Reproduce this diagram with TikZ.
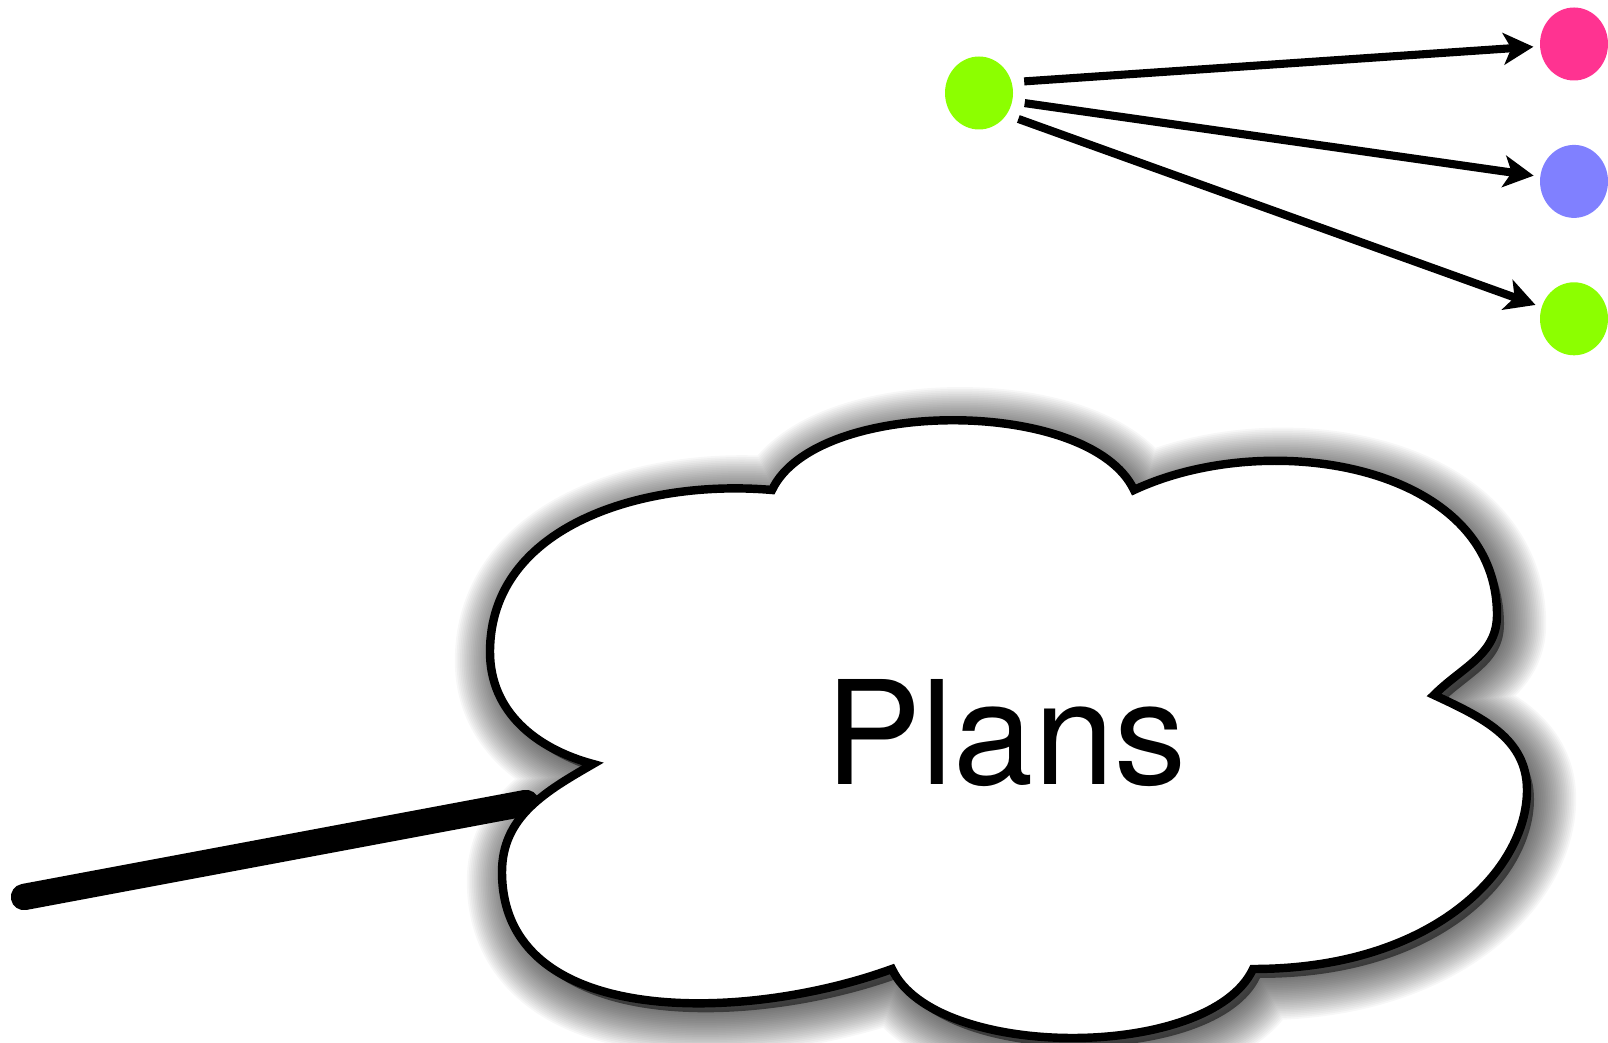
\documentclass[tikz,border=0pt]{standalone}
\usepackage{fontspec}
\setsansfont{TeX Gyre Heros}
\usepackage{tikz}
\usepackage{xcolor}
\usetikzlibrary{positioning, arrows.meta, shapes.geometric}

\definecolor{dotgreen}{RGB}{140,255,0}
\definecolor{dotpink}{RGB}{255,51,145}
\definecolor{dotblue}{RGB}{128,128,255}

% outline of the thought cloud
\newcommand{\cloudshape}{(7.72,5.52)
  .. controls (8.16,6.45) and (10.90,6.45) .. (11.34,5.52)
  to[out=25,in=90] (14.97,4.27)
  to[out=-90,in=45] (14.34,3.47)
  to[out=-25,in=90] (15.27,2.52)
  .. controls (15.27,1.72) and (14.33,0.73) .. (12.53,0.73)
  .. controls (12.10,-0.19) and (9.35,-0.19) .. (8.92,0.73)
  to[out=200,in=-90] (5.02,1.70)
  to[out=90,in=210] (5.93,2.78)
  to[out=165,in=-90] (4.90,3.90)
  to[out=90,in=175] (7.72,5.52) -- cycle}

\begin{document}
\begin{tikzpicture}[
    dot/.style={ellipse, minimum width=0.68cm, minimum height=0.73cm, inner sep=0pt},
    link/.style={line width=2.3pt, -{Stealth[length=8.5pt, width=9pt, inset=2.2pt]},
      shorten <=0.12cm, shorten >=0.06cm}
  ]

  \useasboundingbox (0,0) rectangle (16.08,10.42);

  % Dots
  \node[dot, fill=dotgreen] (src) at (9.79,9.49) {};
  \node[dot, fill=dotpink] (pink) at (15.74,9.98) {};
  \node[dot, fill=dotblue, below=0.63cm of pink] (blue) {};
  \node[dot, fill=dotgreen, below=0.63cm of blue] (leaf) {};

  % Arrows
  \foreach \tgt/\ang in {pink/18, blue/-14, leaf/-38}
    \draw[link] (src.\ang) -- (\tgt);

  % Tail
  \coordinate (tail) at (0.24,1.45);
  \coordinate (hook) at (5.26,2.39);
  \draw[line width=7.5pt, line cap=round] (tail) -- (hook);

  % Shadow
  \foreach \w in {1,...,24}
    \draw[line width=\w pt, line join=round, black, draw opacity=0.03, shift={(0.07,-0.09)}] \cloudshape;
  \fill[black, opacity=0.5, shift={(0.07,-0.09)}] \cloudshape;

  % Cloud
  \filldraw[fill=white, line width=2.4pt] \cloudshape;
  \node[font=\sffamily\fontsize{41}{45}\selectfont, anchor=base] (plans) at (10.06,2.57) {Plans};

\end{tikzpicture}
\end{document}
